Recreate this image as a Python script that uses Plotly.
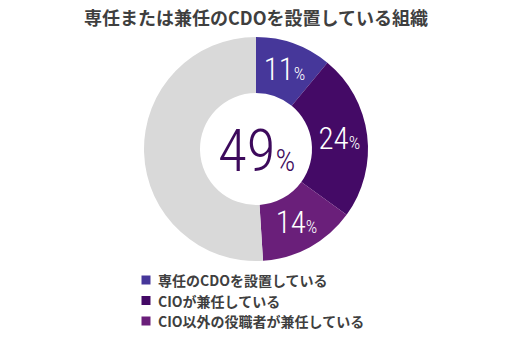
import plotly.graph_objects as go

# Share of organisations with a CDO role (percent)
labels = ["専任のCDOを設置している", "CIOが兼任している", "CIO以外の役職者が兼任している", "その他"]
values = [11, 24, 14, 51]
colors = ["#46379a", "#440a66", "#6a1f7a", "#d9d9d9"]
title_text = "専任または兼任のCDOを設置している組織"

W, H = 512, 340
narrow = "Roboto Condensed"
jp = "Noto Sans CJK JP"

def pct(size):
    return f"<span style='font-size:{size}px'>%</span>"

# percentage shown on each coloured slice; the grey remainder stays blank
templates = ["%{value}" + pct(18)] * 3 + [""]
total_cdo = sum(values[:3])

fig = go.Figure()
fig.add_trace(go.Pie(
    labels=labels,
    values=values,
    texttemplate=templates,
    textposition="inside",
    insidetextorientation="horizontal",
    textfont=dict(family=narrow, size=31, weight=300, color="white"),
    marker=dict(colors=colors, line=dict(width=0)),
    hole=0.5,
    sort=False,
    direction="clockwise",
    rotation=0,
    showlegend=False,
    domain=dict(x=[0, 1], y=[1 - 261 / H, 1 - 37 / H]),
    hoverinfo="skip",
))

# centre figure: all organisations with a CDO (dedicated or concurrent)
fig.add_annotation(
    text=f"{total_cdo}{pct(31)}", x=0.5, y=1 - 150 / H, xref="paper", yref="paper",
    showarrow=False, font=dict(family=narrow, size=59, weight=300, color="#3d0a5c"),
)

# legend: coloured square + label for each coloured slice
row_y = [280, 300.5, 321]
for name, col, yc in zip(labels[:3], colors[:3], row_y):
    fig.add_shape(type="rect", xref="paper", yref="paper",
                  x0=141.5 / W, x1=150.5 / W, y0=1 - (yc + 4.5) / H, y1=1 - (yc - 4.5) / H,
                  fillcolor=col, line=dict(width=0))
    fig.add_annotation(text=f"<b>{name}</b>", x=156 / W, y=1 - yc / H,
                       xref="paper", yref="paper", xanchor="left", yanchor="middle",
                       showarrow=False, font=dict(family=jp, size=14, color="#3f3f3f"))

fig.update_layout(
    width=W, height=H,
    margin=dict(l=0, r=0, t=0, b=0),
    paper_bgcolor="white", plot_bgcolor="white",
    title=dict(text=f"<b>{title_text}</b>", x=0.5, xanchor="center",
               y=1 - 18.5 / H, yanchor="middle",
               font=dict(family=jp, size=18, color="#3f3f3f")),
)

fig.write_html("out.html")
